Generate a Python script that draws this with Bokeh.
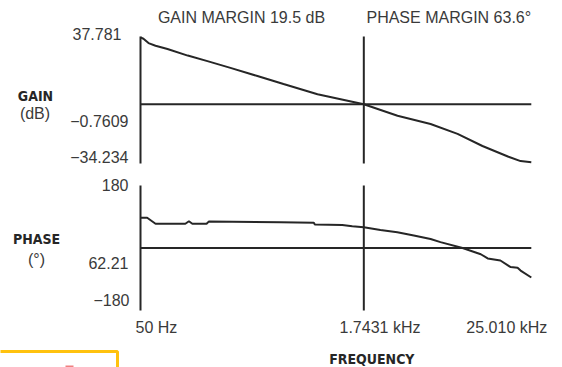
import math
from bokeh.plotting import figure
from bokeh.models import Range1d, BoxAnnotation
from bokeh.core.properties import value
from bokeh.embed import file_html
from bokeh.resources import INLINE

# ---------------- data ----------------
gain_freq_hz = [50, 52.4, 56.8, 63.5, 76.8, 106, 145, 209, 321, 486, 835, 1743.1,
                2980, 5040, 7740, 11500, 17400, 21100, 25010]
gain_db = [37.78, 37.0, 34.5, 33.0, 31.1, 27.3, 24.1, 20.2, 15.5, 10.9, 5.0, -0.76,
           -7.4, -12.1, -17.8, -24.8, -31.0, -33.5, -34.23]

phase_freq_hz = [50, 55.6, 63.5, 102, 108, 114, 143, 148, 464, 787, 800, 1237, 1450,
                 1743.1, 2270, 2970, 3860, 5040, 5900, 8380, 11200, 12500, 15300,
                 18000, 20100, 21100, 25010]
phase_deg = [87, 87, 69.7, 69.7, 77, 69.7, 69.7, 76, 74.5, 72.6, 67.7, 66, 62.8,
             60, 51.8, 45.5, 36, 26, 17, 0, -18, -30, -36, -55, -57, -65, -85]

f_start_hz = 50
f_cross_hz = 1743.1
f_end_hz = 25010
freq_tick_labels = ["50 Hz", "1.7431 kHz", "25.010 kHz"]

gain_axis_top, gain_axis_bottom = 38.3, -34.9
gain_ticks = [37.781, -0.7609, -34.234]
gain_tick_labels = ["37.781", "\u22120.7609", "\u221234.234"]
gain_ref_db = -0.7609

phase_axis_top, phase_axis_bottom = 180, -180
phase_ticks = [180, 62.21, -180]
phase_tick_labels = ["180", "62.21", "\u2212180"]
phase_ref_deg = 0

gain_margin_text = "GAIN MARGIN 19.5 dB"
phase_margin_text = "PHASE MARGIN 63.6\u00b0"

# ---------------- layout (pixels) ----------------
W, H = 556, 367
X0, X1 = 140, 530.8            # pixel columns of f_start / f_end
G_TOP, G_BOT = 36, 163         # gain panel rows
P_TOP, P_BOT = 185, 310        # phase panel rows

INK = "#262626"
TXT = "#3a3a3a"
FONT = "Liberation Sans"
BOLD = "'DejaVu Sans Condensed', 'Liberation Sans Narrow', 'Liberation Sans'"

# ranges so that both panels sit in one full-canvas frame
dpp = math.log10(f_end_hz / f_start_hz) / (X1 - X0)
x_range = Range1d(f_start_hz * 10 ** (-X0 * dpp), f_end_hz * 10 ** ((W - X1) * dpp))
gs = (gain_axis_top - gain_axis_bottom) / (G_BOT - G_TOP)
y_gain = Range1d(gain_axis_bottom - (H - G_BOT) * gs, gain_axis_top + G_TOP * gs)
ps = (phase_axis_top - phase_axis_bottom) / (P_BOT - P_TOP)
y_phase = Range1d(phase_axis_bottom - (H - P_BOT) * ps, phase_axis_top + P_TOP * ps)

p = figure(width=W, height=H, x_axis_type="log", x_range=x_range, y_range=y_gain,
           x_axis_location=None, y_axis_location=None,
           output_backend="svg", toolbar_location=None, min_border=0)
p.extra_y_ranges = {"phase": y_phase}
p.grid.visible = False
p.outline_line_color = None
p.background_fill_color = "white"
p.border_fill_color = "white"

lw = 2
# ---- gain panel
p.segment(x0=[f_start_hz, f_cross_hz], y0=[gain_axis_top, gain_axis_top],
          x1=[f_start_hz, f_cross_hz], y1=[gain_axis_bottom, gain_axis_bottom],
          line_color=INK, line_width=lw)
p.segment(x0=[f_start_hz], y0=[gain_ref_db], x1=[f_end_hz], y1=[gain_ref_db],
          line_color=INK, line_width=lw)
p.line(gain_freq_hz, gain_db, line_color=INK, line_width=lw)

# ---- phase panel
p.segment(x0=[f_start_hz, f_cross_hz], y0=[phase_axis_top, phase_axis_top],
          x1=[f_start_hz, f_cross_hz], y1=[phase_axis_bottom, phase_axis_bottom],
          line_color=INK, line_width=lw, y_range_name="phase")
p.segment(x0=[f_start_hz], y0=[phase_ref_deg], x1=[f_end_hz], y1=[phase_ref_deg],
          line_color=INK, line_width=lw, y_range_name="phase")
p.line(phase_freq_hz, phase_deg, line_color=INK, line_width=lw, y_range_name="phase")


def lab(x, y, text, dx, up, align="center", bold=False, size="16px", rng="default"):
    p.text(x=[x], y=[y], text=[text], x_offset=dx, y_offset=-up,
           text_align=align, text_baseline="middle",
           text_font=value(BOLD if bold else FONT),
           text_font_style="bold" if bold else "normal",
           text_font_size=size, text_color=INK if bold else TXT,
           y_range_name=rng)


lab(f_start_hz, gain_axis_top, gain_margin_text, 101, 19)
lab(f_cross_hz, gain_axis_top, phase_margin_text, 85, 19)
for v, t, (dx, up) in zip(gain_ticks, gain_tick_labels, [(-19, 3), (-12, -16.7), (-12, 5.3)]):
    lab(f_start_hz, v, t, dx, up, align="right")
lab(f_start_hz, gain_ref_db, "GAIN", -105, 7.8, bold=True, size="14px")
lab(f_start_hz, gain_ref_db, "(dB)", -105.5, -9.7)

for v, t, (dx, up) in zip(phase_ticks, phase_tick_labels, [(-12, 1), (-12, -36.6), (-11, 10.5)]):
    lab(f_start_hz, v, t, dx, up, align="right", rng="phase")
lab(f_start_hz, phase_ref_deg, "PHASE", -104, 9, bold=True, size="14px", rng="phase")
lab(f_start_hz, phase_ref_deg, "(\u00b0)", -104, -11, rng="phase")

for f, t, (dx, al) in zip([f_start_hz, f_cross_hz, f_end_hz], freq_tick_labels,
                          [(-5, "left"), (-24.3, "left"), (16, "right")]):
    lab(f, phase_axis_bottom, t, dx, -17, align=al, rng="phase")
lab(f_cross_hz, phase_axis_bottom, "FREQUENCY", 8, -48.5, bold=True, size="14px", rng="phase")

# cropped sidebar frame of the source page (bottom-left)
p.add_layout(BoxAnnotation(left=-5, right=117, top=351, bottom=372,
                           left_units="canvas", right_units="canvas",
                           top_units="canvas", bottom_units="canvas",
                           fill_alpha=0, line_color="#FFC20E", line_width=3,
                           line_alpha=1))
p.add_layout(BoxAnnotation(left=65, right=73, top=365, bottom=372,
                           left_units="canvas", right_units="canvas",
                           top_units="canvas", bottom_units="canvas",
                           fill_color="#F08080", fill_alpha=1, line_alpha=0))

open("out.html", "w").write(file_html(p, INLINE))
